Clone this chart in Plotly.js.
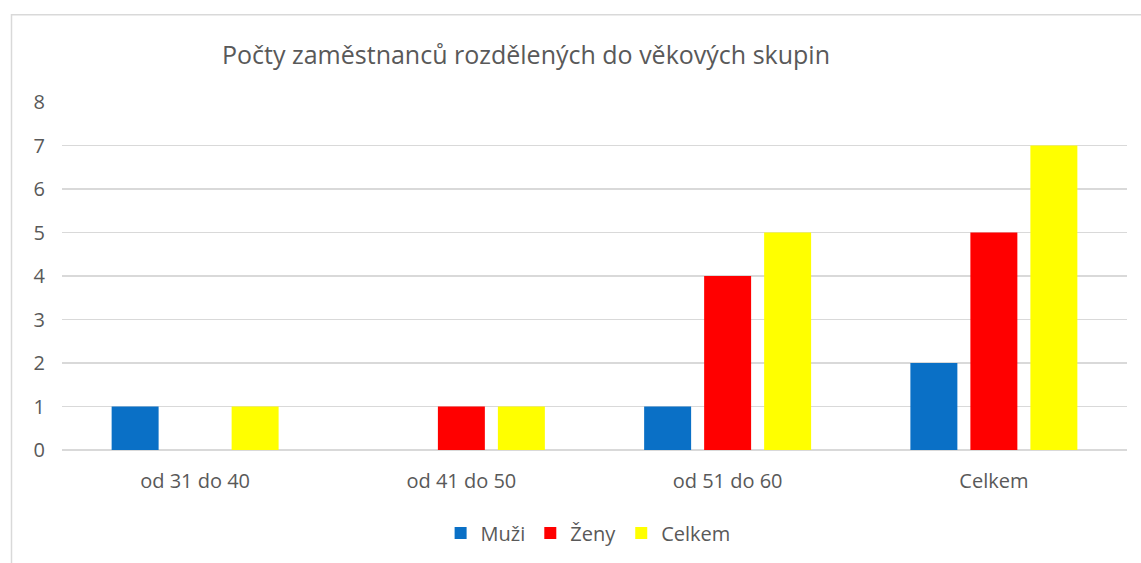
<!DOCTYPE html>
<html><head><meta charset="utf-8">
<script src="https://cdn.plot.ly/plotly-3.0.1.min.js"></script>
<style>html,body{margin:0;padding:0;background:#fff}#chart{width:1141px;height:563px}</style>
</head><body><div id="chart"></div>
<script>
const categories = ["od 31 do 40", "od 41 do 50", "od 51 do 60", "Celkem"];
const seriesNames = ["Muži", "Ženy", "Celkem"];
const muzi = [1, 0, 1, 2];
const zeny = [0, 1, 4, 5];
const celkem = [1, 1, 5, 7];
const colors = ["#0A70C6", "#FF0000", "#FFFF00"];
const values = [muzi, zeny, celkem];

const font = "'Open Sans', 'Liberation Sans', sans-serif";
const traces = values.map((v, i) => ({
  type: "bar", name: seriesNames[i], x: categories, y: v,
  marker: {color: colors[i], line: {width: 0}}, hoverinfo: "none"
}));

const layout = {
  width: 1141, height: 563,
  margin: {l: 62, r: 14, t: 102, b: 112},
  paper_bgcolor: "#fff", plot_bgcolor: "#fff",
  font: {family: font, color: "#595959", size: 20},
  title: {text: "Počty zaměstnanců rozdělených do věkových skupin",
    font: {family: font, size: 25, color: "#595959"},
    x: 526/1141, xanchor: "center", xref: "container", y: 1 - 55/563, yanchor: "middle"},
  barmode: "group", bargap: 0.324, bargroupgap: 0.217,
  xaxis: {showgrid: false, zeroline: false, showline: false, ticks: "",
    ticklabelstandoff: 17, tickfont: {size: 20, color: "#595959"}},
  yaxis: {range: [0, 8], dtick: 1, showgrid: true, gridcolor: "#D9D9D9", gridwidth: 1.3,
    zeroline: true, zerolinecolor: "#D9D9D9", zerolinewidth: 1.3, showline: false, ticks: "",
    ticklabelstandoff: 16, tickfont: {size: 20, color: "#595959"}},
  showlegend: true,
  legend: {orientation: "h", x: 0.494, xanchor: "center", y: -0.235, yanchor: "middle",
    font: {size: 20, color: "#595959"}, itemwidth: 30, traceorder: "normal", bgcolor: "rgba(0,0,0,0)"},
  shapes: [{type: "rect", xref: "paper", yref: "paper",
    x0: (11.5 - 62) / 1065, x1: 1.5, y0: -1, y1: (451 - 14.5) / 349,
    line: {color: "#D9D9D9", width: 1.5}, fillcolor: "rgba(0,0,0,0)", layer: "below"}]
};
Plotly.newPlot("chart", traces, layout, {displayModeBar: false, staticPlot: true});
</script></body></html>
